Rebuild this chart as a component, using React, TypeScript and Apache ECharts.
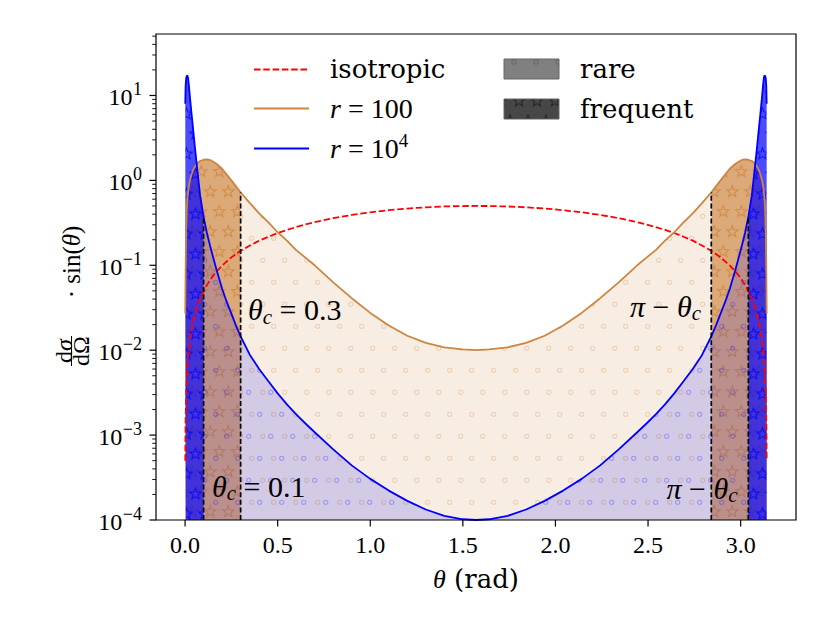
import React, { useEffect, useRef } from "react";
import * as echarts from "echarts";

// ---------------- data ----------------
const THETA = [
  0.001, 0.003, 0.006, 0.009, 0.0125, 0.016, 0.02, 0.027, 0.035, 0.045,
  0.054, 0.068, 0.081, 0.1, 0.117, 0.135, 0.15, 0.171, 0.2, 0.225,
  0.25, 0.275, 0.3, 0.35, 0.4, 0.45, 0.5, 0.55, 0.6, 0.65,
  0.7, 0.8, 0.9, 1.0, 1.1, 1.2, 1.3, 1.4, 1.5, 1.5708,
  1.6416, 1.7416, 1.8416, 1.9416, 2.0416, 2.1416, 2.2416, 2.3416, 2.4416, 2.4916,
  2.5416, 2.5916, 2.6416, 2.6916, 2.7416, 2.7916, 2.8416, 2.8666, 2.8916, 2.9166,
  2.9416, 2.9706, 2.9916, 3.0066, 3.0246, 3.0416, 3.0606, 3.0736, 3.0876, 3.0966,
  3.1066, 3.1146, 3.1216, 3.1256, 3.1291, 3.1326, 3.1356, 3.1386, 3.1406,
];

const ISOTROPIC = [
  0.0005, 0.0015, 0.003, 0.0045, 0.0063, 0.008, 0.01, 0.0135, 0.0175, 0.0225,
  0.027, 0.034, 0.0405, 0.05, 0.058, 0.067, 0.075, 0.085, 0.099, 0.111,
  0.124, 0.136, 0.148, 0.171, 0.195, 0.217, 0.24, 0.261, 0.282, 0.303,
  0.322, 0.359, 0.392, 0.421, 0.446, 0.466, 0.482, 0.493, 0.499, 0.5,
  0.499, 0.493, 0.482, 0.466, 0.446, 0.421, 0.392, 0.359, 0.322, 0.303,
  0.282, 0.261, 0.24, 0.217, 0.195, 0.171, 0.148, 0.136, 0.124, 0.111,
  0.099, 0.085, 0.075, 0.067, 0.058, 0.05, 0.0405, 0.034, 0.027, 0.0225,
  0.0175, 0.0135, 0.01, 0.008, 0.0063, 0.0045, 0.003, 0.0015, 0.0005,
];

const R100 = [
  0.027, 0.09, 0.26, 0.45, 0.6, 0.72, 0.85, 1.02, 1.18, 1.35,
  1.46, 1.6, 1.69, 1.75, 1.77, 1.74, 1.67, 1.56, 1.37, 1.17,
  1.0, 0.85, 0.72, 0.54, 0.41, 0.32, 0.245, 0.195, 0.151, 0.123,
  0.1, 0.063, 0.041, 0.0275, 0.0195, 0.0148, 0.0122, 0.0108, 0.0102, 0.01,
  0.0102, 0.0108, 0.0122, 0.0148, 0.0195, 0.0275, 0.041, 0.063, 0.1, 0.123,
  0.151, 0.195, 0.245, 0.32, 0.41, 0.54, 0.72, 0.85, 1.0, 1.17,
  1.37, 1.56, 1.67, 1.74, 1.77, 1.75, 1.69, 1.6, 1.46, 1.35,
  1.18, 1.02, 0.85, 0.72, 0.6, 0.45, 0.26, 0.09, 0.027,
];

const R1E4 = [
  8.0, 13.0, 16.0, 17.0, 17.2, 16.2, 13.5, 9.2, 6.1, 3.7,
  2.36, 1.22, 0.67, 0.37, 0.245, 0.17, 0.128, 0.087, 0.053, 0.037,
  0.027, 0.0195, 0.0145, 0.0088, 0.006, 0.0043, 0.0031, 0.0023, 0.00175, 0.00137,
  0.00108, 0.00068, 0.00044, 0.000305, 0.000222, 0.000168, 0.000133, 0.000112, 0.000102, 0.0001,
  0.000102, 0.000112, 0.000133, 0.000168, 0.000222, 0.000305, 0.00044, 0.00068, 0.00108, 0.00137,
  0.00175, 0.0023, 0.0031, 0.0043, 0.006, 0.0088, 0.0145, 0.0195, 0.027, 0.037,
  0.053, 0.087, 0.128, 0.17, 0.245, 0.37, 0.67, 1.22, 2.36, 3.7,
  6.1, 9.2, 13.5, 16.2, 17.2, 17.0, 16.0, 13.0, 8.0,
];

const CUT_R100 = [0.3, 2.8416];
const CUT_R1E4 = [0.1, 3.0416];

const X_TICKS = [0, 0.5, 1, 1.5, 2, 2.5, 3];
const X_TICK_LABELS = ["0.0", "0.5", "1.0", "1.5", "2.0", "2.5", "3.0"];
const Y_TICKS = [1e-4, 1e-3, 1e-2, 1e-1, 1, 10];
const Y_TICK_EXPONENTS = ["\u22124", "\u22123", "\u22122", "\u22121", "0", "1"];
const Y_MINOR_MULTIPLIERS = [2, 3, 4, 5, 6, 7, 8, 9];
const Y_MINOR_DECADES = [1e-4, 1e-3, 1e-2, 1e-1, 1, 10];

const X_MIN = -0.157;
const X_MAX = 3.299;
const Y_MIN = 1e-4;
const Y_MAX = 53;

// ---------------- styling helpers ----------------
const ORANGE = "#CD853F";
const BLUE = "#0000FF";
const RED = "#FF0000";
const MATH = "'Liberation Serif', 'Times New Roman', serif";
const TEXT = "'DejaVu Serif', serif";

let measureCtx: CanvasRenderingContext2D | null = null;
function textWidth(t: string, font: string): number {
  if (!measureCtx) measureCtx = document.createElement("canvas").getContext("2d");
  if (!measureCtx) return t.length * 10;
  measureCtx.font = font;
  return measureCtx.measureText(t).width;
}

type Run = { t: string; size: number; italic?: boolean; dy?: number; fam?: string };
const fontOf = (r: Run) => `${r.italic ? "italic " : ""}${r.size}px ${r.fam ?? MATH}`;

function runText(x0: number, baseline: number, runs: Run[], align: "left" | "right" | "center") {
  const ws = runs.map((r) => textWidth(r.t, fontOf(r)));
  const total = ws.reduce((a, b) => a + b, 0);
  let x = align === "left" ? x0 : align === "right" ? x0 - total : x0 - total / 2;
  const out: any[] = [];
  runs.forEach((r, i) => {
    out.push({
      type: "text",
      x,
      y: baseline + (r.dy ?? 0) - 0.34 * r.size,
      z: 60,
      silent: true,
      style: { text: r.t, font: fontOf(r), fill: "#000", align: "left", verticalAlign: "middle" },
    });
    x += ws[i];
  });
  return out;
}

function makeCanvas(w: number, h: number) {
  const c = document.createElement("canvas");
  c.width = w;
  c.height = h;
  return c;
}

function ringPattern(bg: string, ring: string, ox: number, oy: number) {
  const W = 22, H = 44;
  const c = makeCanvas(W, H);
  const g = c.getContext("2d")!;
  g.fillStyle = bg;
  g.fillRect(0, 0, W, H);
  g.strokeStyle = ring;
  g.lineWidth = 1.1;
  const centers = [[ox, oy], [ox + 11, oy + 22]];
  for (const [px, py] of centers)
    for (let i = -1; i <= 1; i++)
      for (let j = -1; j <= 1; j++) {
        g.beginPath();
        g.arc(px + i * W, py + j * H, 2.1, 0, Math.PI * 2);
        g.stroke();
      }
  return { image: c, repeat: "repeat", imageWidth: W, imageHeight: H };
}

function starPattern(bg: string, stroke: string, ox: number, oy: number) {
  const W = 18, H = 40;
  const c = makeCanvas(W, H);
  const g = c.getContext("2d")!;
  g.fillStyle = bg;
  g.fillRect(0, 0, W, H);
  g.strokeStyle = stroke;
  g.lineWidth = 1.2;
  g.lineJoin = "miter";
  const centers = [[ox, oy], [ox + 9, oy + 20]];
  for (const [px, py] of centers)
    for (let i = -1; i <= 1; i++)
      for (let j = -1; j <= 1; j++) {
        const cx = px + i * W, cy = py + j * H;
        g.beginPath();
        for (let k = 0; k < 10; k++) {
          const a = -Math.PI / 2 + (k * Math.PI) / 5;
          const rad = k % 2 === 0 ? 6 : 2.6;
          const x = cx + rad * Math.cos(a), y = cy + rad * Math.sin(a);
          if (k === 0) g.moveTo(x, y);
          else g.lineTo(x, y);
        }
        g.closePath();
        g.stroke();
      }
  return { image: c, repeat: "repeat", imageWidth: W, imageHeight: H };
}

const pts = (vals: number[]) => THETA.map((t, i) => [t, vals[i]]);
const within = (vals: number[], lo: number, hi: number) =>
  pts(vals).filter(([t]) => t >= lo - 1e-9 && t <= hi + 1e-9);

const NAME_RICH = {
  r: { fontFamily: "Liberation Serif", fontSize: 24, color: "#000" },
  i: { fontFamily: "Liberation Serif", fontSize: 24, fontStyle: "italic", color: "#000" },
  R: { fontFamily: "Liberation Serif", fontSize: 25, color: "#000" },
  I: { fontFamily: "Liberation Serif", fontSize: 25, fontStyle: "italic", color: "#000" },
};

const hiddenAxisParts = {
  axisLine: { show: false },
  axisTick: { show: false },
  axisLabel: { show: false },
  splitLine: { show: false },
};

function buildOption() {
  const orangeRare = ringPattern("rgba(205,133,63,0.15)", "rgba(205,133,63,0.28)", 20.7, 40.3);
  const blueRare = ringPattern("rgba(0,0,255,0.15)", "rgba(0,0,255,0.25)", 6.7, 40.3);
  const orangeFreq = starPattern("rgba(205,133,63,0.7)", "rgba(205,133,63,0.7)", 12.3, 31.7);
  const blueFreq = starPattern("rgba(0,0,255,0.7)", "rgba(0,0,255,0.7)", 15.5, 14);
  const legendRare = ringPattern("#808080", "#6a6a6a", 8, 18);
  const legendFreq = starPattern("#474747", "#2a2a2a", 6, 1);

  const fill = (data: number[][], pattern: any) => ({
    type: "line",
    data,
    symbol: "none",
    showSymbol: false,
    silent: true,
    z: 1,
    lineStyle: { width: 0, opacity: 0 },
    areaStyle: { color: pattern, opacity: 1, origin: "start" },
  });

  const curve = (vals: number[], color: string, width: number, type: any = "solid") => ({
    type: "line",
    data: pts(vals),
    symbol: "none",
    showSymbol: false,
    silent: true,
    z: 3,
    itemStyle: { color },
    lineStyle: { color, width, type },
  });

  const vline = (c: number, vals: number[]) => {
    const i = THETA.indexOf(c);
    return {
      type: "line",
      data: [[c, Y_MIN], [c, vals[i]]],
      symbol: "none",
      showSymbol: false,
      silent: true,
      z: 4,
      lineStyle: { color: "#000", width: 1.7, type: [5, 2.6] },
    };
  };

  const yMinor: number[] = [];
  for (const d of Y_MINOR_DECADES)
    for (const k of Y_MINOR_MULTIPLIERS) if (k * d < Y_MAX) yMinor.push(k * d);

  const tickSeries = [
    {
      type: "custom",
      silent: true,
      clip: false,
      z: 20,
      encode: { x: 0, y: 1 },
      data: X_TICKS.map((v) => [v, Y_MIN]),
      renderItem: (params: any, api: any) => {
        const p = api.coord([api.value(0), api.value(1)]);
        return {
          type: "group",
          children: [
            { type: "line", shape: { x1: p[0], y1: p[1], x2: p[0], y2: p[1] + 6.5 }, style: { stroke: "#000", lineWidth: 1.2 } },
            {
              type: "text",
              x: p[0],
              y: p[1] + 24.5,
              style: { text: X_TICK_LABELS[params.dataIndex], font: `24px ${MATH}`, fill: "#000", align: "center", verticalAlign: "middle" },
            },
          ],
        };
      },
    },
    {
      type: "custom",
      silent: true,
      clip: false,
      z: 20,
      encode: { x: 0, y: 1 },
      data: Y_TICKS.map((v) => [X_MIN, v]),
      renderItem: (params: any, api: any) => {
        const p = api.coord([api.value(0), api.value(1)]);
        const exp = Y_TICK_EXPONENTS[params.dataIndex];
        const supFont = `18px ${MATH}`;
        const baseFont = `24px ${MATH}`;
        const right = p[0] - 14;
        const wSup = textWidth(exp, supFont);
        return {
          type: "group",
          children: [
            { type: "line", shape: { x1: p[0] - 6.5, y1: p[1], x2: p[0], y2: p[1] }, style: { stroke: "#000", lineWidth: 1.2 } },
            {
              type: "text",
              x: right - wSup - 0.5,
              y: p[1] + 10 - 0.34 * 24,
              style: { text: "10", font: baseFont, fill: "#000", align: "right", verticalAlign: "middle" },
            },
            {
              type: "text",
              x: right,
              y: p[1] - 0.34 * 18,
              style: { text: exp, font: supFont, fill: "#000", align: "right", verticalAlign: "middle" },
            },
          ],
        };
      },
    },
    {
      type: "custom",
      silent: true,
      clip: false,
      z: 20,
      encode: { x: 0, y: 1 },
      data: yMinor.map((v) => [X_MIN, v]),
      renderItem: (params: any, api: any) => {
        const p = api.coord([api.value(0), api.value(1)]);
        return { type: "line", shape: { x1: p[0] - 3.8, y1: p[1], x2: p[0], y2: p[1] }, style: { stroke: "#000", lineWidth: 0.9 } };
      },
    },
  ];

  const graphics: any[] = [];
  // frame
  graphics.push({ type: "rect", z: 100, silent: true, shape: { x: 156, y: 34, width: 640, height: 486 }, style: { fill: "none", stroke: "#000", lineWidth: 1.2 } });

  // legend
  graphics.push({ type: "line", z: 60, silent: true, shape: { x1: 254, y1: 69.5, x2: 309, y2: 69.5 }, style: { stroke: RED, lineWidth: 1.8, lineDash: [6.5, 2.8] } });
  graphics.push({ type: "line", z: 60, silent: true, shape: { x1: 254, y1: 108.5, x2: 309, y2: 108.5 }, style: { stroke: ORANGE, lineWidth: 2 } });
  graphics.push({ type: "line", z: 60, silent: true, shape: { x1: 254, y1: 148.5, x2: 309, y2: 148.5 }, style: { stroke: BLUE, lineWidth: 2 } });
  graphics.push(...runText(330, 78.3, [{ t: "isotropic", size: 26, fam: TEXT }], "left"));
  graphics.push(...runText(330, 118.3, [{ t: "r", size: 28, italic: true }, { t: " = 100", size: 28 }], "left"));
  graphics.push(...runText(330, 158.3, [{ t: "r", size: 28, italic: true }, { t: " = 10", size: 28 }, { t: "4", size: 19, dy: -11 }], "left"));
  graphics.push({ type: "rect", z: 60, silent: true, shape: { x: 504, y: 59, width: 55, height: 20 }, style: { fill: legendRare, stroke: "#666", lineWidth: 1 } });
  graphics.push({ type: "rect", z: 60, silent: true, shape: { x: 504, y: 99, width: 55, height: 20 }, style: { fill: legendFreq, stroke: "#666", lineWidth: 1 } });
  graphics.push(...runText(580, 78.3, [{ t: "rare", size: 26, fam: TEXT }], "left"));
  graphics.push(...runText(580, 118.3, [{ t: "frequent", size: 26, fam: TEXT }], "left"));

  // annotations
  const theta = (s: number): Run => ({ t: "\u03b8", size: s, italic: true });
  const sub = (s: number): Run => ({ t: "c", size: s, italic: true, dy: 4 });
  graphics.push(...runText(248, 320, [theta(30), sub(21), { t: " = 0.3", size: 30 }], "left"));
  graphics.push(...runText(212, 496.5, [theta(30), sub(21), { t: " = 0.1", size: 30 }], "left"));
  graphics.push(...runText(701, 316.5, [{ t: "\u03c0", size: 30, italic: true }, { t: " \u2212 ", size: 30 }, theta(30), sub(21)], "right"));
  graphics.push(...runText(737.5, 498.5, [{ t: "\u03c0", size: 30, italic: true }, { t: " \u2212 ", size: 30 }, theta(30), sub(21)], "right"));

  // x axis title
  graphics.push(...runText(476, 588, [{ t: "\u03b8", size: 26, italic: true }, { t: " (rad)", size: 26, fam: TEXT }], "center"));

  // fraction bar of the y-axis title
  graphics.push({ type: "line", z: 60, silent: true, shape: { x1: 71.5, y1: 336, x2: 71.5, y2: 366 }, style: { stroke: "#000", lineWidth: 1 } });

  return {
    animation: false,
    backgroundColor: "#ffffff",
    grid: { left: 156, right: 34, top: 34, bottom: 103, containLabel: false },
    xAxis: {
      type: "value",
      min: X_MIN,
      max: X_MAX,
      ...hiddenAxisParts,
    },
    yAxis: [
      {
        type: "log",
        logBase: 10,
        min: Y_MIN,
        max: Y_MAX,
        ...hiddenAxisParts,
        name: "{R|\u00b7 sin(}{I|\u03b8}{R|)}",
        nameLocation: "middle",
        nameRotate: 90,
        nameGap: 72,
        nameTextStyle: { rich: NAME_RICH, padding: [0, 0, 0, 30] },
      },
      {
        type: "value",
        min: 0,
        max: 1,
        position: "left",
        offset: 0,
        ...hiddenAxisParts,
        name: "{r|d}{i|\u03c3}",
        nameLocation: "middle",
        nameRotate: 90,
        nameGap: 80,
        nameTextStyle: { rich: NAME_RICH, padding: [0, 148, 0, 0] },
      },
      {
        type: "value",
        min: 0,
        max: 1,
        position: "left",
        offset: 0,
        ...hiddenAxisParts,
        name: "{r|d\u03a9}",
        nameLocation: "middle",
        nameRotate: 90,
        nameGap: 63,
        nameTextStyle: { rich: NAME_RICH, padding: [0, 148, 0, 0] },
      },
    ],
    series: [
      fill(within(R100, CUT_R100[0], CUT_R100[1]), orangeRare),
      fill(within(R100, 0, CUT_R100[0]), orangeFreq),
      fill(within(R100, CUT_R100[1], 4), orangeFreq),
      fill(within(R1E4, CUT_R1E4[0], CUT_R1E4[1]), blueRare),
      fill(within(R1E4, 0, CUT_R1E4[0]), blueFreq),
      fill(within(R1E4, CUT_R1E4[1], 4), blueFreq),
      curve(ISOTROPIC, RED, 1.8, [6.5, 2.8]),
      curve(R100, ORANGE, 1.8),
      curve(R1E4, BLUE, 1.8),
      vline(CUT_R100[0], R100),
      vline(CUT_R100[1], R100),
      vline(CUT_R1E4[0], R1E4),
      vline(CUT_R1E4[1], R1E4),
      ...tickSeries,
    ],
    graphic: graphics,
  };
}

export default function App() {
  const ref = useRef<HTMLDivElement>(null);
  useEffect(() => {
    document.body.style.margin = "0";
    const chart = echarts.init(ref.current!, null, { renderer: "svg", width: 830, height: 623 });
    chart.setOption(buildOption() as any);
    return () => chart.dispose();
  }, []);
  return <div ref={ref} style={{ width: 830, height: 623 }} />;
}
